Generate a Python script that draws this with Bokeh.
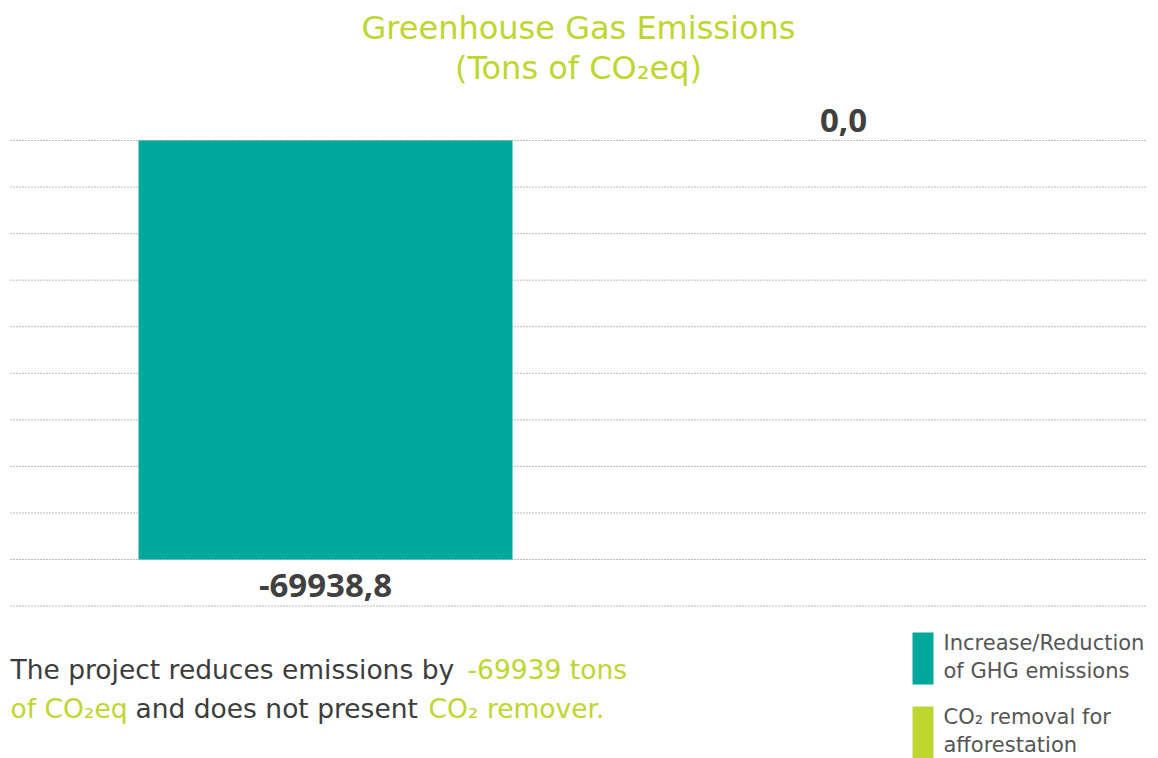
from bokeh.plotting import figure
from bokeh.models import Range1d, Label, ColumnDataSource
from bokeh.core.properties import value
from bokeh.embed import file_html
from bokeh.resources import INLINE

# ---- data ----
categories = ["Increase/Reduction of GHG emissions", "CO₂ removal for afforestation"]
values = [-69938.8, 0.0]
value_labels = ["-69938,8", "0,0"]
colors = ["#00A89C", "#BED630"]
tick_values = [0, -7771, -15542, -23313, -31084, -38855, -46626, -54397, -62168, -69939, -77710]
legend_lines = [["Increase/Reduction", "of GHG emissions"], ["CO₂ removal for", "afforestation"]]
title_lines = ["Greenhouse Gas Emissions", "(Tons of CO₂eq)"]

W, H = 1158, 758
DARK = "#3C3C3C"
LIME = "#BED630"
FONT = "DejaVu Sans"

# layout helpers (pixel -> data)
X0, XS = 325.0, 518.0
YS = 69938.8 / 419.0
def dx(px):
    return (px - X0) / XS
def dy(py):
    return -(py - 140.0) * YS

p = figure(width=W, height=H, output_backend="svg", toolbar_location=None,
           x_range=Range1d(dx(0), dx(W)), y_range=Range1d(dy(H), dy(0)),
           min_border=0, outline_line_color=None)
p.axis.visible = False
p.grid.visible = False
p.background_fill_color = "white"
p.border_fill_color = "white"

# grid lines
p.segment(x0=[dx(10)] * len(tick_values), x1=[dx(1145)] * len(tick_values),
          y0=tick_values, y1=tick_values, line_color="#7A7A7A", line_width=1,
          line_dash="1 2")

# bars
xs = list(range(len(values)))
src = ColumnDataSource(dict(x=xs, top=[0] * len(values), bottom=values, color=colors,
                            lab=value_labels,
                            ly=[v - 26 * YS if v < 0 else v + 20 * YS for v in values]))
p.vbar(x="x", top="top", bottom="bottom", width=374 / XS, fill_color="color",
       line_color=None, source=src)
p.text(x="x", y="ly", text="lab", source=src, text_align="center",
       text_baseline="middle", text_font=value("Open Sans"), text_font_style="bold",
       text_font_size="33px", text_color="#404040")

# title
for i, t in enumerate(title_lines):
    p.add_layout(Label(x=dx(578), y=dy(27 + 40 * i), text=t, text_align="center",
                       text_baseline="middle", text_font=FONT, text_font_size="32px",
                       text_color=LIME))

# bottom sentence
segs = [
    ("The project reduces emissions by", 10, 669, DARK),
    ("-69939 tons", 467, 669, LIME),
    ("of CO₂eq", 10, 708, LIME),
    ("and does not present", 135, 708, DARK),
    ("CO₂ remover.", 428, 708, LIME),
]
for t, x, y, c in segs:
    p.add_layout(Label(x=dx(x), y=dy(y), text=t, text_align="left",
                       text_baseline="middle", text_font=FONT, text_font_size="26.5px",
                       text_color=c))

# legend
for i, (lines, c) in enumerate(zip(legend_lines, colors)):
    top = 632 + 74 * i
    p.quad(left=dx(912), right=dx(933), top=dy(top), bottom=dy(top + 52),
           fill_color=c, line_color=None)
    for j, t in enumerate(lines):
        p.add_layout(Label(x=dx(943), y=dy(top + 10 + 28 * j), text=t, text_align="left",
                           text_baseline="middle", text_font=FONT, text_font_size="21px",
                           text_color="#555555"))

open("out.html", "w").write(file_html(p, INLINE))
